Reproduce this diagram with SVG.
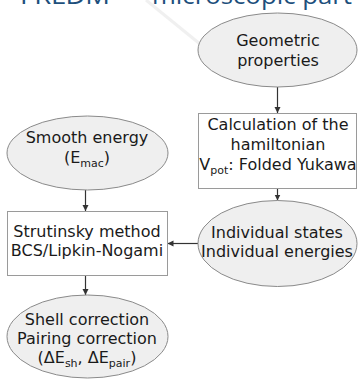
<svg xmlns="http://www.w3.org/2000/svg" width="358" height="379" viewBox="0 0 358 379">
<style>
.ell{fill:#efefef;stroke:#8a8a8a;stroke-width:1}
.box{fill:#ffffff;stroke:#9a9a9a;stroke-width:1}
.t{font-family:"DejaVu Sans",sans-serif;font-size:16px;fill:#1a1a1a;text-anchor:middle}
.sub{font-size:11px}
.title{font-family:"Open Sans","DejaVu Sans",sans-serif;font-size:24px;fill:#1d4f7c}
.con{stroke:#333333;stroke-width:1.2;fill:none;marker-end:url(#ah)}
</style>
<defs>
<marker id="ah" markerWidth="8" markerHeight="8" refX="6" refY="3" orient="auto" markerUnits="userSpaceOnUse">
<path d="M0,0 L6,3 L0,6 Z" fill="#333333"/>
</marker>
</defs>
<rect width="358" height="379" fill="#ffffff"/>
<line x1="146" y1="0" x2="200" y2="44" stroke="#f0f0f0" stroke-width="3"/>
<g id="title">
<text class="title" x="20" y="4" textLength="90" lengthAdjust="spacingAndGlyphs">FRLDM</text>
<text class="title" x="118" y="4" textLength="24" lengthAdjust="spacingAndGlyphs">—</text>
<text class="title" x="152" y="4" textLength="200" lengthAdjust="spacingAndGlyphs">microscopic part</text>
</g>
<g id="connectors">
<line class="con" x1="277.5" y1="87" x2="277.5" y2="113"/>
<line class="con" x1="277.5" y1="188.5" x2="277.5" y2="200.5"/>
<line class="con" x1="198" y1="243.5" x2="167.5" y2="243.5"/>
<line class="con" x1="85.5" y1="190" x2="85.5" y2="211"/>
<line class="con" x1="85.5" y1="275.5" x2="85.5" y2="295"/>
</g>
<g id="geometric">
<ellipse class="ell" cx="277.5" cy="50" rx="79.5" ry="37"/>
<text class="t" x="278" y="46">Geometric</text>
<text class="t" x="278" y="65.5">properties</text>
</g>
<g id="hamiltonian">
<rect class="box" x="198.5" y="113.5" width="158" height="75"/>
<text class="t" x="278" y="130">Calculation of the</text>
<text class="t" x="278" y="150">hamiltonian</text>
<text class="t" x="278" y="170">V<tspan class="sub" dy="4">pot</tspan><tspan dy="-4">: Folded Yukawa</tspan></text>
</g>
<g id="individual">
<ellipse class="ell" cx="277.5" cy="243.5" rx="79.5" ry="43"/>
<text class="t" x="277" y="238">Individual states</text>
<text class="t" x="277" y="257">Individual energies</text>
</g>
<g id="smooth">
<ellipse class="ell" cx="87.5" cy="153" rx="80.5" ry="37"/>
<text class="t" x="87" y="143">Smooth energy</text>
<text class="t" x="87" y="163">(E<tspan class="sub" dy="4">mac</tspan><tspan dy="-4">)</tspan></text>
</g>
<g id="strutinsky">
<rect class="box" x="7.5" y="211.5" width="160" height="64"/>
<text class="t" x="87" y="237">Strutinsky method</text>
<text class="t" x="87" y="256">BCS/Lipkin-Nogami</text>
</g>
<g id="shell">
<ellipse class="ell" cx="87.5" cy="336.5" rx="80.5" ry="41.5"/>
<text class="t" x="87" y="325">Shell correction</text>
<text class="t" x="87" y="344">Pairing correction</text>
<text class="t" x="87" y="363">(ΔE<tspan class="sub" dy="4">sh</tspan><tspan dy="-4">, ΔE</tspan><tspan class="sub" dy="4">pair</tspan><tspan dy="-4">)</tspan></text>
</g>
</svg>
